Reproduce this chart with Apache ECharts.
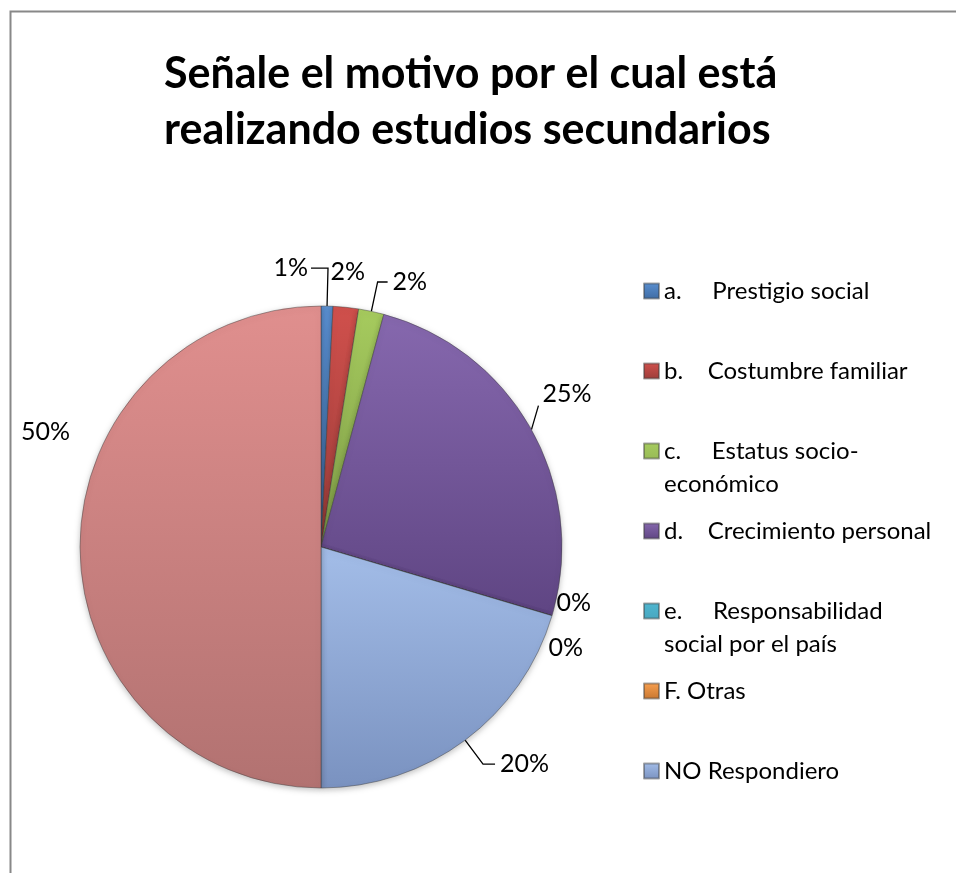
<!DOCTYPE html>
<html>
<head>
<meta charset="utf-8">
<script src="https://cdn.jsdelivr.net/npm/echarts@6/dist/echarts.min.js"></script>
<style>
html, body { margin: 0; padding: 0; background: #fff; }
#pie-chart { width: 956px; height: 873px; }
</style>
</head>
<body>
<div id="pie-chart"></div>
<script>
// data (percent of answers)
const titleText = 'Señale el motivo por el cual está\nrealizando estudios secundarios';
const categories = [
    'a.     Prestigio social',
    'b.    Costumbre familiar',
    'c.     Estatus socio-\neconómico',
    'd.    Crecimiento personal',
    'e.     Responsabilidad\nsocial por el país',
    'F. Otras',
    'NO Respondiero',
    'Total'
];
const values = [0.8, 1.7, 1.7, 25.4, 0, 0, 20.4, 50];
const legendNames = categories.slice(0, 7);

// office 2007 style colours, lighter on top and darker at the bottom
const colorTop = ['#5a8fd0', '#d0504c', '#a6cb5e', '#8668ae', '#4fb6d0', '#f9a050', '#a3bde8', '#e08f8e'];
const colorBottom = ['#3e6ba3', '#9c3d3a', '#7e9c47', '#5f4583', '#3a8aa0', '#c77630', '#7a92c0', '#b27271'];

const FONT = 'Lato';
const lineH = 33;

const chart = echarts.init(document.getElementById('pie-chart'));

function grad(i) {
    return new echarts.graphic.LinearGradient(0, 0, 0, 1, [
        { offset: 0, color: colorTop[i] },
        { offset: 1, color: colorBottom[i] }
    ]);
}

const pieData = categories.map((name, i) => {
    const item = { name, value: values[i], itemStyle: { color: grad(i) } };
    if (values[i] === 0) item.labelLine = { show: false };
    return item;
});
// leader line tweaks, Excel style
pieData[0].labelLine = { length: 38, length2: 17 };
pieData[1].labelLine = { show: false };
pieData[2].labelLine = { length: 30, length2: 10 };
pieData[3].labelLine = { length: 24, length2: 0 };
pieData[6].labelLine = { length: 30, length2: 12 };
pieData[7].labelLine = { show: false };

// one legend per entry, so every entry starts 80px below the last.
// two line entries get a taller icon box with the square at its top,
// so the square sits next to the first line
const legends = legendNames.map((name, i) => {
    const twoLines = name.indexOf('\n') >= 0;
    const iconMid = 291 + i * 80;
    return {
        data: [name],
        left: 643,
        top: iconMid - lineH / 2,
        padding: 0,
        itemWidth: 15,
        itemHeight: twoLines ? 15 + lineH : 15,
        icon: twoLines ? 'path://M0,0L15,0L15,15L0,15ZM0,' + (15 + lineH) : 'rect',
        selectedMode: false,
        textStyle: {
            fontFamily: FONT,
            fontSize: 24,
            color: '#000',
            lineHeight: lineH
        }
    };
});

const option = {
    animation: false,
    graphic: [{
        type: 'rect',
        shape: { x: 10.5, y: 11.5, width: 2000, height: 2000 },
        style: { fill: 'none', stroke: '#888', lineWidth: 2 },
        silent: true
    }],
    title: {
        text: titleText,
        left: 164,
        top: 46,
        padding: 0,
        textStyle: {
            fontFamily: FONT,
            fontWeight: 'bold',
            fontSize: 43,
            lineHeight: 56,
            color: '#000'
        }
    },
    legend: legends,
    series: [{
        type: 'pie',
        center: [321, 547],
        radius: 241,
        startAngle: 90,
        clockwise: true,
        percentPrecision: 0,
        avoidLabelOverlap: false,
        data: pieData,
        itemStyle: {
            borderColor: 'rgba(60,60,60,0.45)',
            borderWidth: 1,
            shadowBlur: 6,
            shadowOffsetY: 2,
            shadowColor: 'rgba(0,0,0,0.25)'
        },
        label: {
            formatter: '{d}%',
            fontFamily: FONT,
            fontSize: 25,
            color: '#000'
        },
        labelLine: {
            lineStyle: { color: '#000', width: 1.3, shadowBlur: 0 }
        },
        labelLayout: function (p) {
            const pts = p.labelLinePoints;
            if (p.dataIndex === 0 && pts) {
                // flip the 1% label to the left of its line
                const p1 = pts[1];
                const p2x = p1[0] - (pts[2][0] - p1[0]);
                return {
                    x: p2x - 3,
                    y: pts[2][1],
                    align: 'right',
                    labelLinePoints: [pts[0], p1, [p2x, pts[2][1]]]
                };
            }
            if (p.dataIndex === 3 && pts) {
                // short, steep leader line as Excel draws it
                const a = pts[0];
                const b = [a[0] + 7, a[1] - 24];
                return {
                    x: b[0] + 4,
                    y: b[1] - 12,
                    align: 'left',
                    labelLinePoints: [a, b, b]
                };
            }
            if (p.dataIndex === 1) return { dx: -52, dy: -20 };
            if (p.dataIndex === 4) return { dx: -45, dy: -17 };
            if (p.dataIndex === 5) return { dx: -53, dy: 28 };
            if (p.dataIndex === 7) return { dx: 40, dy: -115 };
            return {};
        }
    }]
};

chart.setOption(option);
</script>
</body>
</html>
